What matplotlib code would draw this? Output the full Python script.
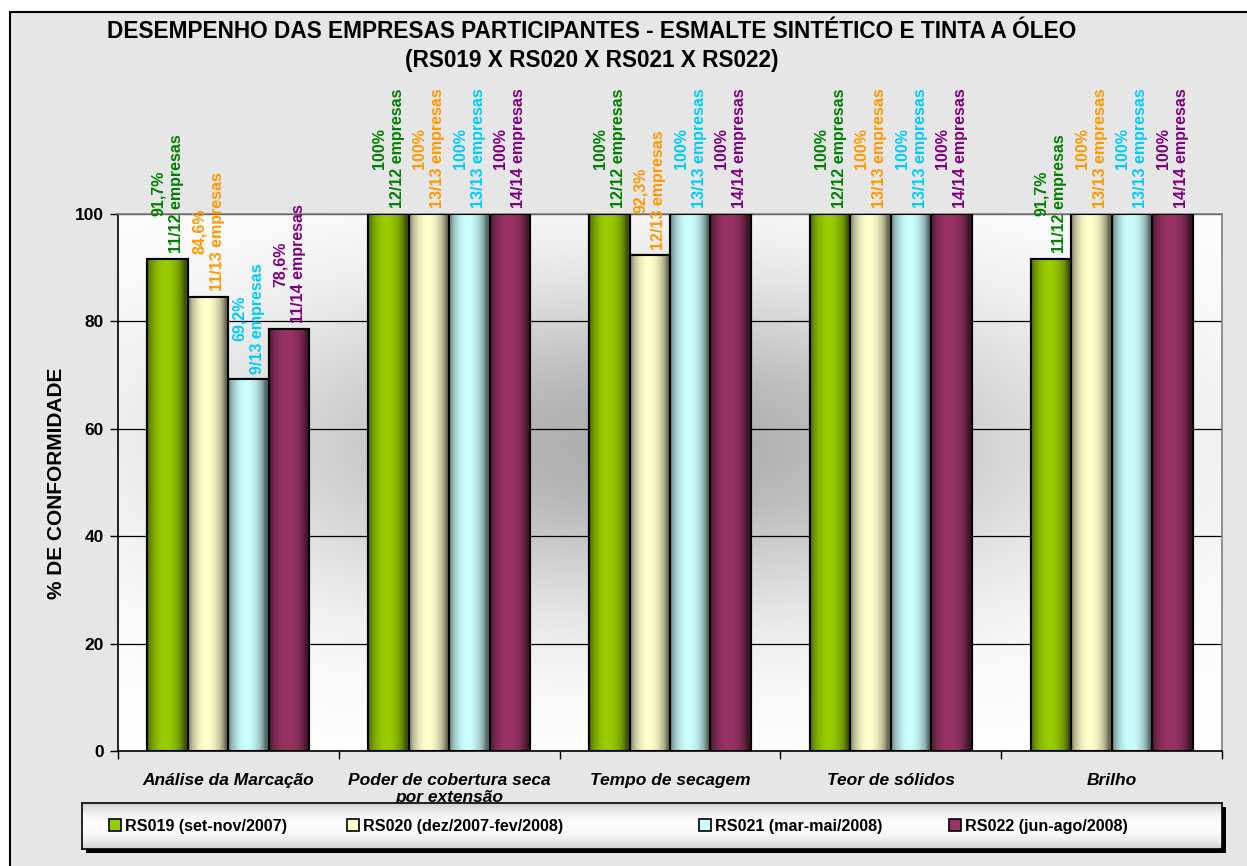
import numpy as np
import matplotlib
matplotlib.use("Agg")
import matplotlib.pyplot as plt
from matplotlib.patches import Rectangle, Patch
from matplotlib.colors import to_rgb

plt.rcParams['font.family'] = ['Liberation Sans', 'DejaVu Sans']

categories = ["Análise da Marcação", "Poder de cobertura seca\npor extensão",
              "Tempo de secagem", "Teor de sólidos", "Brilho"]
series_names = ["RS019 (set-nov/2007)", "RS020 (dez/2007-fev/2008)",
                "RS021 (mar-mai/2008)", "RS022 (jun-ago/2008)"]
rs019 = [91.7, 100, 100, 100, 91.7]
rs020 = [84.6, 100, 92.3, 100, 100]
rs021 = [69.2, 100, 100, 100, 100]
rs022 = [78.6, 100, 100, 100, 100]
pct019 = ["91,7%", "100%", "100%", "100%", "91,7%"]
pct020 = ["84,6%", "100%", "92,3%", "100%", "100%"]
pct021 = ["69,2%", "100%", "100%", "100%", "100%"]
pct022 = ["78,6%", "100%", "100%", "100%", "100%"]
cnt019 = ["11/12", "12/12", "12/12", "12/12", "11/12"]
cnt020 = ["11/13", "13/13", "12/13", "13/13", "13/13"]
cnt021 = ["9/13", "13/13", "13/13", "13/13", "13/13"]
cnt022 = ["11/14", "14/14", "14/14", "14/14", "14/14"]
yticks = [0, 20, 40, 60, 80, 100]

values = [rs019, rs020, rs021, rs022]
pcts = [pct019, pct020, pct021, pct022]
cnts = [cnt019, cnt020, cnt021, cnt022]
bar_colors = ["#99cc00", "#ffffcc", "#ccffff", "#993366"]
label_colors = ["#008000", "#ff9900", "#00ccff", "#800080"]

W, H = 1247, 866
fig = plt.figure(figsize=(W / 100, H / 100), dpi=100, facecolor="white")

# outer chart frame
fig.patches.append(Rectangle((10 / W, -0.02), 1.0, 1 - 12 / H + 0.02,
                             transform=fig.transFigure, facecolor="#e6e6e6",
                             edgecolor="black", lw=1.5, zorder=-10))

ax = fig.add_axes([118 / W, 1 - 751 / H, (1222 - 118) / W, (751 - 214) / H])
ax.set_facecolor("white")

# radial gradient plot background
ny, nx = 200, 300
yy, xx = np.mgrid[0:1:ny * 1j, 0:1:nx * 1j]
r2 = ((xx - 0.48) / 0.42) ** 2 + ((yy - 0.57) / 0.33) ** 2
g = 1 - 0.32 * np.exp(-r2 * 1.2)
bg = np.dstack([g, g, g])
ax.imshow(bg, extent=[0, 1, 0, 1], transform=ax.transAxes, origin="lower",
          aspect="auto", zorder=0, interpolation="bilinear")

n = len(categories)
x = np.arange(n)
bw = 0.1834
offsets = (np.arange(4) - 1.5) * bw

prof = np.linspace(0, 1, 64)
shade = 0.42 + 0.58 * np.clip(np.sin(np.pi * np.clip(prof * 1.1, 0, 1)) ** 0.6, 0, 1)

for si in range(4):
    base = np.array(to_rgb(bar_colors[si]))
    grad = np.clip(base[None, :] * shade[:, None], 0, 1)[None, :, :]
    bars = ax.bar(x + offsets[si], values[si], width=bw, facecolor=bar_colors[si],
                  edgecolor="black", lw=1.5, zorder=3)
    for b in bars:
        x0, w, h = b.get_x(), b.get_width(), b.get_height()
        im = ax.imshow(grad, extent=[x0, x0 + w, 0, h], aspect="auto",
                       zorder=3.5, interpolation="bilinear")
        im.set_clip_path(b)
        ax.add_patch(Rectangle((x0, 0), w, h, facecolor="none",
                               edgecolor="black", lw=1.5, zorder=4))
    for i in range(n):
        ax.annotate(f"{pcts[si][i]}\n{cnts[si][i]} empresas",
                    xy=(x[i] + offsets[si], values[si][i]), xytext=(0, 4),
                    textcoords="offset points", rotation=90, ha="center",
                    va="bottom", multialignment="center", fontsize=11.5,
                    fontweight="bold", color=label_colors[si], zorder=6,
                    annotation_clip=False, linespacing=1.25)

ax.set_xlim(-0.5, n - 0.5)
ax.set_ylim(0, 100)
ax.set_yticks(yticks)
ax.set_yticklabels([str(t) for t in yticks], fontsize=12.5, fontweight="bold")
ax.yaxis.grid(True, color="black", lw=0.9, zorder=1)
ax.set_axisbelow(True)
ax.tick_params(axis="y", direction="out", length=6, width=1, pad=4)

ax.set_xticks(x)
ax.set_xticklabels(categories, fontsize=12.5, fontweight="bold", style="italic",
                   linespacing=1.15)
ax.tick_params(axis="x", which="major", length=0, pad=16)
ax.set_xticks(np.arange(-0.5, n), minor=True)
ax.tick_params(axis="x", which="minor", direction="out", length=6, width=1)

for s in ["left", "bottom"]:
    ax.spines[s].set_color("black")
    ax.spines[s].set_linewidth(1.2)
for s in ["top", "right"]:
    ax.spines[s].set_color("#808080")
    ax.spines[s].set_linewidth(1.2)

fig.text(57 / W, 1 - 483 / H, "% DE CONFORMIDADE", rotation=90, ha="center",
         va="center", fontsize=15, fontweight="bold")

fig.text(592 / W, 1 - 32 / H, "DESEMPENHO DAS EMPRESAS PARTICIPANTES - ESMALTE SINTÉTICO E TINTA A ÓLEO",
         ha="center", va="center", fontsize=16.3, fontweight="bold")
fig.text(592 / W, 1 - 60 / H, "(RS019 X RS020 X RS021 X RS022)",
         ha="center", va="center", fontsize=16.3, fontweight="bold")

# legend box with shadow
lx0, lx1, ly0, ly1 = 82, 1222, 803, 849
fig.patches.append(Rectangle(((lx0 + 4) / W, 1 - (ly1 + 4) / H), (lx1 - lx0) / W,
                             (ly1 - ly0) / H, transform=fig.transFigure,
                             facecolor="black", edgecolor="black", lw=0, zorder=18))
# vertical gradient fill for legend box
lg = np.linspace(0, 1, 50)
lv = 0.80 + 0.19 * np.sin(np.pi * lg) ** 0.7
limg = np.stack([lv, lv, lv], axis=-1).reshape(50, 1, 3).repeat(2, axis=1)
lax = fig.add_axes([lx0 / W, 1 - ly1 / H, (lx1 - lx0) / W, (ly1 - ly0) / H], zorder=19)
lax.imshow(limg, extent=[0, 1, 0, 1], aspect="auto", origin="lower",
           interpolation="bilinear")
lax.set_xlim(0, 1)
lax.set_ylim(0, 1)
lax.set_xticks([])
lax.set_yticks([])
for s in lax.spines.values():
    s.set_color("black")
    s.set_linewidth(1.2)

handles = [Patch(facecolor=c, edgecolor="black", lw=1.2) for c in bar_colors]
handle_x = [109, 347, 699, 949]
ymid = 1 - (ly0 + ly1) / 2 / H
for hx, hnd, name in zip(handle_x, handles, series_names):
    lg_ = fig.legend([hnd], [name], loc="center left",
                     bbox_to_anchor=(hx / W, ymid),
                     bbox_transform=fig.transFigure, frameon=False,
                     borderaxespad=0, borderpad=0,
                     prop={"size": 11.6, "weight": "bold"}, handlelength=0.75,
                     handleheight=0.75, handletextpad=0.25)
    lg_.set_zorder(25)

fig.savefig("out.png", dpi=100, facecolor="white")
